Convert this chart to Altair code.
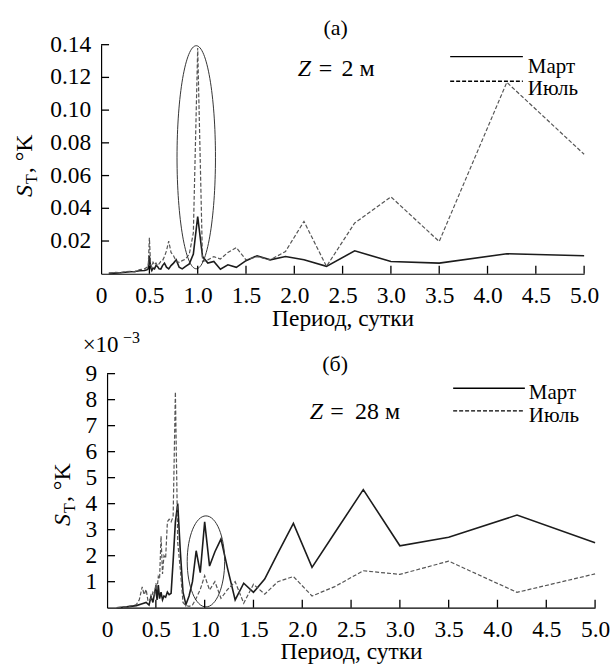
import altair as alt
import pandas as pd

FONT = "Liberation Serif"
FS = 21      # legend text
ZFS = 24     # depth annotation
AFS = 23.5   # axis labels and titles

# ---------------- panel (а): Z = 2 м, S_T in °K ----------------
a_mar_period = [0.08, 0.15, 0.2, 0.25, 0.3, 0.35, 0.4, 0.45, 0.475, 0.488, 0.5, 0.512, 0.525,
                0.538, 0.553, 0.568, 0.583, 0.6, 0.618, 0.636, 0.656, 0.677, 0.7, 0.724, 0.75,
                0.778, 0.808, 0.84, 0.875, 0.913, 0.955, 1.0, 1.05, 1.105, 1.167, 1.235, 1.3125,
                1.4, 1.5, 1.615, 1.75, 1.909, 2.1, 2.333, 2.625, 3.0, 3.5, 4.2, 5.0]
a_mar_value = [0.0002, 0.0004, 0.0006, 0.0009, 0.0012, 0.0014, 0.0018, 0.002, 0.0025, 0.003, 0.011, 0.004, 0.002,
               0.0035, 0.003, 0.005, 0.0045, 0.003, 0.0028, 0.005, 0.0065, 0.004, 0.003, 0.005, 0.0065,
               0.0085, 0.004, 0.003, 0.0045, 0.006, 0.012, 0.035, 0.0105, 0.0065, 0.0075, 0.0028, 0.0055,
               0.0039, 0.008, 0.011, 0.0085, 0.0105, 0.0085, 0.0045, 0.014, 0.0075, 0.0065, 0.0122, 0.011]

a_jul_period = [0.08, 0.15, 0.2, 0.25, 0.3, 0.35, 0.4, 0.45, 0.475, 0.488, 0.5, 0.512, 0.525,
                0.538, 0.553, 0.568, 0.583, 0.6, 0.618, 0.636, 0.656, 0.677, 0.7, 0.724, 0.75,
                0.778, 0.808, 0.84, 0.875, 0.913, 0.955, 1.0, 1.05, 1.105, 1.167, 1.235, 1.3125,
                1.4, 1.5, 1.615, 1.75, 1.909, 2.1, 2.333, 2.625, 3.0, 3.5, 4.2, 5.0]
a_jul_value = [0.0003, 0.0008, 0.0006, 0.0012, 0.0015, 0.0012, 0.0025, 0.003, 0.004, 0.005, 0.022, 0.006, 0.004,
               0.007, 0.0055, 0.0065, 0.005, 0.006, 0.0075, 0.008, 0.0105, 0.014, 0.02, 0.013, 0.011,
               0.0075, 0.007, 0.008, 0.009, 0.012, 0.025, 0.138, 0.0075, 0.0085, 0.0105, 0.009, 0.013,
               0.016, 0.0085, 0.0105, 0.0085, 0.0136, 0.032, 0.0045, 0.031, 0.047, 0.0197, 0.117, 0.073]

# ---------------- panel (б): Z = 28 м, S_T in 1e-3 °K ----------------
b_mar_period = [0.1, 0.2, 0.3, 0.36, 0.4, 0.43, 0.45, 0.47, 0.488, 0.5, 0.512, 0.525, 0.538,
                0.553, 0.568, 0.583, 0.6, 0.618, 0.636, 0.656, 0.677, 0.7, 0.724, 0.75, 0.778,
                0.808, 0.84, 0.875, 0.913, 0.955, 1.0, 1.05, 1.105, 1.167, 1.235, 1.3125, 1.4,
                1.5, 1.615, 1.75, 1.909, 2.1, 2.333, 2.625, 3.0, 3.5, 4.2, 5.0]
b_mar_value = [0.0, 0.03, 0.08, 0.15, 0.2, 0.1, 0.43, 0.2, 0.6, 0.8, 0.3, 0.87, 0.35,
               0.6, 0.3, 0.45, 0.4, 0.6, 0.5, 0.55, 1.8, 3.3, 4.0, 2.2, 0.6,
               0.12, 0.45, 1.0, 2.19, 1.35, 3.3, 1.6, 2.15, 2.64, 1.5, 0.3, 0.94,
               0.59, 1.1, 2.1, 3.24, 1.55, 2.88, 4.54, 2.38, 2.71, 3.56, 2.5]

b_jul_period = [0.1, 0.2, 0.3, 0.33, 0.36, 0.38, 0.4, 0.42, 0.45, 0.47, 0.488, 0.5, 0.512,
                0.525, 0.538, 0.553, 0.568, 0.583, 0.6, 0.618, 0.636, 0.656, 0.677, 0.7, 0.724,
                0.75, 0.778, 0.808, 0.84, 0.875, 0.913, 0.955, 1.0, 1.05, 1.105, 1.167, 1.235,
                1.3125, 1.4, 1.5, 1.615, 1.75, 1.909, 2.1, 2.333, 2.625, 3.0, 3.5, 4.2, 5.0]
b_jul_value = [0.0, 0.03, 0.12, 0.3, 0.8, 0.5, 0.7, 0.25, 0.35, 0.6, 0.5, 0.95, 0.7,
               1.2, 1.1, 2.75, 1.3, 2.0, 1.9, 3.3, 3.4, 3.3, 3.5, 8.3, 2.5,
               1.5, 0.2, 0.08, 0.05, 0.1, 0.36, 0.7, 1.23, 0.68, 1.0, 0.36, 0.7,
               1.0, 0.17, 0.9, 0.52, 1.0, 1.2, 0.45, 0.81, 1.42, 1.28, 1.79, 0.59, 1.3]

x_ticks = [0.5, 1.0, 1.5, 2.0, 2.5, 3.0, 3.5, 4.0, 4.5, 5.0]
x_labels = [0.0] + x_ticks
a_y_ticks = [0.02, 0.04, 0.06, 0.08, 0.10, 0.12, 0.14]
a_y_labels = ["0.02", "0.04", "0.06", "0.08", "0.10", "0.12", "0.14"]
b_y_ticks = [1, 2, 3, 4, 5, 6, 7, 8, 9]
b_y_labels = ["1", "2", "3", "4", "5", "6", "7", "8", "9"]

# ovals drawn around the diurnal peak: centre (period, value), radii in px
a_oval_center = [0.985, 0.0712]
b_oval_center = [1.013, 1.78]
a_oval_r = [19.3, 112]
b_oval_r = [18.8, 45.7]

W_A, H_A = 485, 230
W_B, H_B = 490, 235
SHIFT_B = 6
TICK = 8


def ellipse_path(ratio):
    """Unit-height ellipse built from four cubic Bezier arcs."""
    k = 0.5523
    a = ratio
    return (f"M0,-1C{a*k:.4f},-1 {a:.4f},{-k} {a:.4f},0"
            f"C{a:.4f},{k} {a*k:.4f},1 0,1"
            f"C{-a*k:.4f},1 {-a:.4f},{k} {-a:.4f},0"
            f"C{-a:.4f},{-k} {-a*k:.4f},-1 0,-1Z")


def one(text):
    return pd.DataFrame({"t": [text]})


def text_layer(text, x, y, size=FS, align="left", baseline="alphabetic", style="normal", angle=0):
    kw = dict(font=FONT, fontSize=size, align=align, baseline=baseline, color="black",
              fontStyle=style)
    if angle:
        kw["angle"] = angle
    return alt.Chart(one(text)).mark_text(**kw).encode(
        text="t:N", x=alt.value(x), y=alt.value(y))


def rule_layer(x1, x2, y, dash=None, color="black", width=1.4):
    kw = dict(color=color, strokeWidth=width)
    if dash:
        kw["strokeDash"] = dash
    return alt.Chart(one("")).mark_rule(**kw).encode(
        x=alt.value(x1), x2=alt.value(x2), y=alt.value(y))


def panel(mar_p, mar_v, jul_p, jul_v, ymax, yticks, ylabels, w, h, shift,
          oval_c, oval_r, extras):
    xs = alt.Scale(domain=[0, 5], range=[shift, shift + w], nice=False, zero=False)
    ys = alt.Scale(domain=[0, ymax], nice=False)

    mar = pd.DataFrame({"period": mar_p, "value": mar_v})
    jul = pd.DataFrame({"period": jul_p, "value": jul_v})

    yaxis_kw = dict(values=yticks, labels=False, ticks=False, title=None,
                    domainColor="black", domainWidth=1.2)
    if shift:
        yaxis_kw["offset"] = -shift

    base = alt.Chart(mar).mark_line(color="#1c1c1c", strokeWidth=1.6).encode(
        x=alt.X("period:Q", scale=xs, axis=alt.Axis(
            values=x_labels, ticks=False, title="Период, сутки",
            labelExpr="datum.value == 0 ? '0' : format(datum.value, '.1f')",
            labelPadding=10, titlePadding=-1, domainColor="black", domainWidth=1.2,
            labelFlush=False, labelOverlap=False)),
        y=alt.Y("value:Q", scale=ys, axis=alt.Axis(**yaxis_kw)),
    )
    july = alt.Chart(jul).mark_line(color="#555555", strokeWidth=1.2, strokeDash=[4, 2]).encode(
        x=alt.X("period:Q", scale=xs),
        y=alt.Y("value:Q", scale=ys),
    )
    # inward-pointing tick marks along both axes
    xt = alt.Chart(pd.DataFrame({"period": x_ticks})).mark_rule(
        color="black", strokeWidth=1.3, opacity=1).encode(
        x=alt.X("period:Q", scale=xs), y=alt.value(h), y2=alt.value(h - TICK))
    yt = alt.Chart(pd.DataFrame({"value": yticks})).mark_rule(
        color="black", strokeWidth=1.3, opacity=1).encode(
        y=alt.Y("value:Q", scale=ys), x=alt.value(shift), x2=alt.value(shift + TICK))
    # value labels along the vertical axis
    yl = alt.Chart(pd.DataFrame({"value": yticks, "label": ylabels})).mark_text(
        font=FONT, fontSize=AFS, align="right", baseline="middle", color="black").encode(
        y=alt.Y("value:Q", scale=ys), x=alt.value(shift - 10), text="label:N")
    oval = alt.Chart(pd.DataFrame({"period": [oval_c[0]], "value": [oval_c[1]]})).mark_point(
        shape=ellipse_path(oval_r[0] / oval_r[1]), size=(2 * oval_r[1]) ** 2,
        filled=False, stroke="#333333", strokeWidth=1.0, opacity=1).encode(
        x=alt.X("period:Q", scale=xs),
        y=alt.Y("value:Q", scale=ys))

    return alt.layer(base, july, oval, xt, yt, yl, *extras).properties(width=shift + w, height=h)


def ylabel(xb, shift_t):
    return [
        text_layer("S", xb, 153, size=24, style="italic", angle=270),
        text_layer("T", xb + shift_t, 140, size=16, angle=270),
        text_layer(", °K", xb, 129, size=24, angle=270),
    ]


top_extras = [
    text_layer("(а)", 235.5, -17, size=22, align="center", baseline="middle"),
    text_layer("Z", 197.5, 31, size=ZFS, style="italic"),
    text_layer("=", 218.5, 31, size=ZFS),
    text_layer("2 м", 241.5, 31, size=ZFS),
    rule_layer(350.5, 423.5, 12),
    text_layer("Март", 428.5, 28),
    rule_layer(350.5, 423.5, 36.7, dash=[4, 2]),
    text_layer("Июль", 428.5, 51),
] + ylabel(-69.5, 5)

bottom_extras = [
    text_layer("×10", -18.5, -21.3, size=23),
    text_layer("−3", 22, -31, size=16),
    text_layer("(б)", 235, -10, size=22, align="center", baseline="middle"),
    text_layer("Z", 209.5, 45.7, size=ZFS, style="italic"),
    text_layer("=", 230, 45.7, size=ZFS),
    text_layer("28 м", 255, 45.7, size=ZFS),
    rule_layer(353.5, 425.5, 14.7),
    text_layer("Март", 429.5, 25.7),
    rule_layer(353.5, 425.5, 37.4, dash=[4, 2]),
    text_layer("Июль", 429.5, 48.7),
] + ylabel(-31.5, 5)

top = panel(a_mar_period, a_mar_value, a_jul_period, a_jul_value, 0.14, a_y_ticks, a_y_labels,
            W_A, H_A, 0, a_oval_center, a_oval_r, top_extras)
bottom = panel(b_mar_period, b_mar_value, b_jul_period, b_jul_value, 9, b_y_ticks, b_y_labels,
               W_B, H_B, SHIFT_B, b_oval_center, b_oval_r, bottom_extras)

chart = alt.vconcat(top, bottom, spacing=100.3, bounds="flush").properties(
    padding={"left": 12.5, "top": 15.5, "right": 5, "bottom": 3},
).configure_axis(
    labelFont=FONT, labelFontSize=AFS, labelColor="black",
    titleFont=FONT, titleFontSize=AFS, titleFontWeight="normal", titleColor="black",
    grid=False,
).configure_view(stroke=None)

chart.save("out.html", embed_options={"renderer": "svg", "actions": False})
